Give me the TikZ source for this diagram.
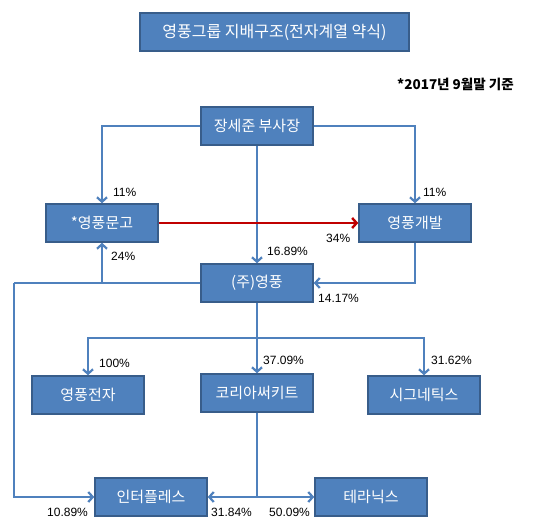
\documentclass[tikz,border=0pt]{standalone}
\usepackage{fontspec}
\setmainfont{Liberation Sans}
\newfontfamily\kr{Noto Sans CJK KR}
\usetikzlibrary{arrows.meta}

\begin{document}
\begin{tikzpicture}[x=1pt,y=-1pt,
  box/.style={draw=borderColor,fill=fillColor,line width=1.5pt,text=white,
    minimum width=112pt,minimum height=38pt,inner sep=0pt,font=\kr\fontsize{15}{16}\selectfont},
  link/.style={draw=lineColor,line width=2.2pt},
  tip/.style={-{Straight Barb[length=4.5pt,width=10pt]}},
  pct/.style={anchor=west,inner sep=0pt,font=\fontsize{12}{13}\selectfont}]
\definecolor{fillColor}{RGB}{79,129,189}
\definecolor{borderColor}{RGB}{56,93,138}
\definecolor{lineColor}{RGB}{79,129,189}
\definecolor{redColor}{RGB}{192,0,0}
\path[use as bounding box,fill=white] (0,0) rectangle (535,530);

\node[box,minimum width=269pt,font=\kr\fontsize{16}{17}\selectfont] (title) at (274.5,32) {영풍그룹 지배구조(전자계열 약식)};
\node[anchor=west,inner sep=0pt,font=\kr\bfseries\fontsize{13.5}{14}\selectfont] (note) at (397,84) {*2017년 9월말 기준};

\node[box] (boss) at (257,126) {장세준 부사장};
\node[box] (mungo) at (102,223) {*영풍문고};
\node[box] (gaebal) at (415,223) {영풍개발};
\node[box] (yp) at (257,283) {(주)영풍};
\node[box] (elec) at (88,395) {영풍전자};
\node[box] (kc) at (257,393) {코리아써키트};
\node[box] (sig) at (424,395) {시그네틱스};
\node[box] (inter) at (151,497) {인터플레스};
\node[box] (tera) at (371,497) {테라닉스};

\coordinate (lcorner) at (14,283);
\coordinate (split) at (257,338);
\coordinate (bsplit) at (257,497);

\draw[link,tip] (boss.west) -| (mungo.north);
\draw[link,tip] (boss.east) -| (gaebal.north);
\draw[link,tip] (boss.south) -- (yp.north);
\draw[draw=redColor,line width=2.4pt,tip] (mungo.east) -- (gaebal.west);
\draw[link,tip] (gaebal.south) |- (yp.east);
\draw[link] (yp.west) -- (lcorner);
\draw[link,tip] (yp.west -| mungo.south) -- (mungo.south);
\draw[link,tip] (lcorner) |- (inter.west);
\draw[link] (yp.south) -- (split);
\draw[link,tip] (split) -| (elec.north);
\draw[link,tip] (split) -- (kc.north);
\draw[link,tip] (split) -| (sig.north);
\draw[link] (kc.south) -- (bsplit);
\draw[link,tip] (bsplit) -- (inter.east);
\draw[link,tip] (bsplit) -- (tera.west);

\node[pct] (p11l) at (113,192) {11\%};
\node[pct] (p11r) at (423,192) {11\%};
\node[pct] (p34) at (326,238) {34\%};
\node[pct] (p1689) at (267,251) {16.89\%};
\node[pct] (p24) at (111,256) {24\%};
\node[pct] (p1417) at (318,298) {14.17\%};
\node[pct] (p100) at (99,363) {100\%};
\node[pct] (p3709) at (263,360) {37.09\%};
\node[pct] (p3162) at (431,360) {31.62\%};
\node[pct] (p1089) at (47,512) {10.89\%};
\node[pct] (p3184) at (211,512) {31.84\%};
\node[pct] (p5009) at (269,512) {50.09\%};
\end{tikzpicture}
\end{document}
